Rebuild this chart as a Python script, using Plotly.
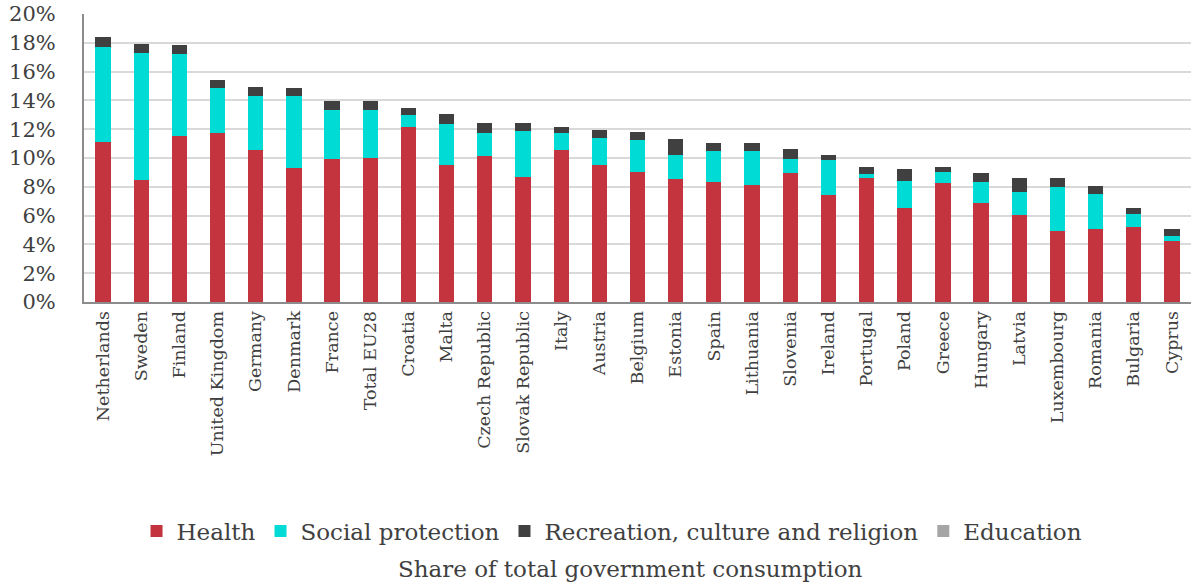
import plotly.graph_objects as go

countries = ["Netherlands", "Sweden", "Finland", "United Kingdom", "Germany", "Denmark",
             "France", "Total EU28", "Croatia", "Malta", "Czech Republic", "Slovak Republic",
             "Italy", "Austria", "Belgium", "Estonia", "Spain", "Lithuania", "Slovenia",
             "Ireland", "Portugal", "Poland", "Greece", "Hungary", "Latvia", "Luxembourg",
             "Romania", "Bulgaria", "Cyprus"]

# cumulative tops (percent)
health_top = [11.09, 8.50, 11.55, 11.71, 10.56, 9.31, 9.93, 10.02, 12.18, 9.49, 10.12, 8.70,
              10.56, 9.49, 9.05, 8.52, 8.33, 8.15, 8.96, 7.45, 8.59, 6.55, 8.24, 6.90, 6.02,
              4.95, 5.05, 5.21, 4.24]
social_top = [17.69, 17.31, 17.25, 14.84, 14.31, 14.31, 13.33, 13.33, 12.96, 12.34, 11.71, 11.90,
              11.71, 11.37, 11.25, 10.21, 10.46, 10.46, 9.93, 9.84, 8.87, 8.43, 9.03, 8.31, 7.62,
              7.96, 7.52, 6.09, 4.58]
recreation_top = [18.43, 17.92, 17.82, 15.42, 14.95, 14.88, 13.98, 13.98, 13.47, 13.03, 12.41, 12.41,
                  12.15, 11.97, 11.78, 11.32, 11.04, 11.04, 10.60, 10.19, 9.35, 9.26, 9.35, 8.94, 8.63,
                  8.63, 8.03, 6.50, 5.07]

health = [h / 100 for h in health_top]
social = [(s - h) / 100 for s, h in zip(social_top, health_top)]
recreation = [(r - s) / 100 for r, s in zip(recreation_top, social_top)]
education = [0.0 for _ in countries]

FONT = "DejaVu Serif"

fig = go.Figure()
series = [
    ("Health", health, "#C3343F"),
    ("Social protection", social, "#00DCD5"),
    ("Recreation, culture and religion", recreation, "#404040"),
    ("Education", education, "#A5A5A5"),
]
for name, vals, col in series:
    fig.add_trace(go.Bar(x=countries, y=vals, name=name,
                         marker=dict(color=col, line=dict(width=0))))

fig.update_layout(
    barmode="stack",
    bargap=0.6,
    width=1192, height=586,
    margin=dict(l=84, r=1, t=14, b=284),
    paper_bgcolor="white", plot_bgcolor="white",
    font=dict(family=FONT, size=20, color="#404040"),
    legend=dict(orientation="h", x=0.477, xanchor="center", y=-0.795, yanchor="middle",
                font=dict(family=FONT, size=23, color="#404040"), traceorder="normal",
                itemwidth=30),
    showlegend=True,
    annotations=[dict(text="Share of total government consumption", x=0.493, y=-0.927,
                      xref="paper", yref="paper", showarrow=False,
                      font=dict(family=FONT, size=23, color="#404040"),
                      xanchor="center", yanchor="middle")],
)
fig.update_yaxes(range=[0, 0.2], dtick=0.02, tickformat=".0%", showgrid=True,
                 gridcolor="#D9D9D9", gridwidth=2, showline=True, linecolor="#8C8C8C",
                 linewidth=2, ticks="", ticklabelstandoff=22,
                 tickfont=dict(family=FONT, size=21, color="#404040"), zeroline=False)
fig.update_xaxes(showline=True, linecolor="#8C8C8C", linewidth=2, tickangle=-90,
                 ticks="", tickfont=dict(family=FONT, size=17.5, color="#404040"))

fig.write_html("out.html")
